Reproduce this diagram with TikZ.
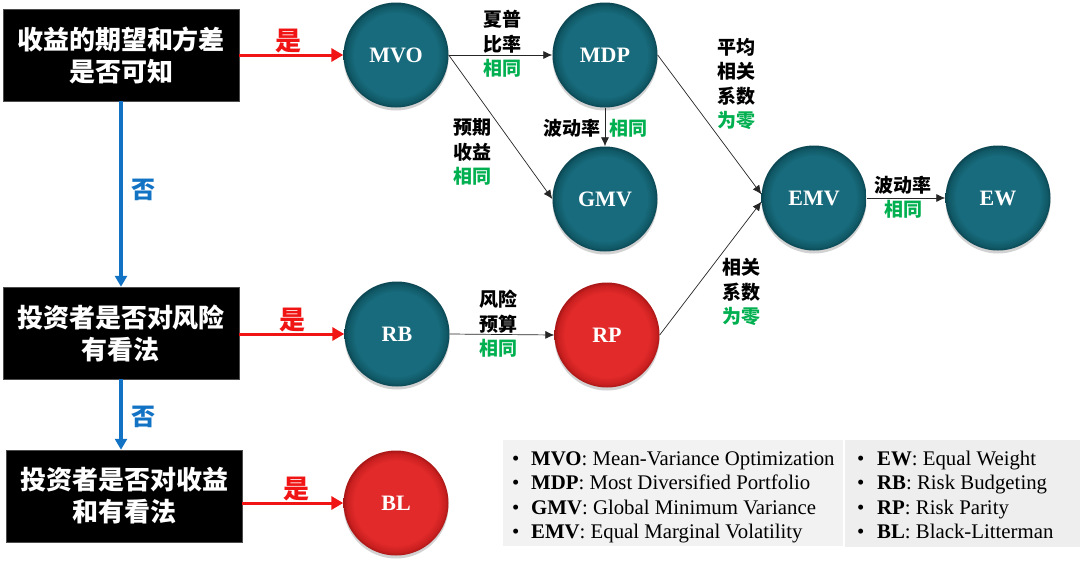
\documentclass[tikz,border=0pt]{standalone}
\usepackage{fontspec}
\setmainfont{Liberation Serif}
\newfontfamily\cjk{Noto Sans CJK SC}
\usetikzlibrary{arrows.meta,shadows}
\definecolor{tealmid}{HTML}{176B7C}
\definecolor{tealdark}{HTML}{105866}
\definecolor{tealedge}{HTML}{0B4652}
\definecolor{redmid}{HTML}{E22A2A}
\definecolor{reddark}{HTML}{C91F1F}
\definecolor{rededge}{HTML}{A81616}
\definecolor{okgreen}{HTML}{00B050}
\definecolor{yesred}{HTML}{F01414}
\definecolor{noblue}{HTML}{1272C4}
\definecolor{legbgA}{HTML}{F2F2F2}
\definecolor{legbgB}{HTML}{EEEEEE}
\pgfdeclareradialshading{tealball}{\pgfpoint{0bp}{0bp}}{color(0bp)=(tealmid); color(20bp)=(tealmid); color(23.5bp)=(tealdark); color(25bp)=(tealedge); color(50bp)=(tealedge)}
\pgfdeclareradialshading{redball}{\pgfpoint{0bp}{0bp}}{color(0bp)=(redmid); color(20bp)=(redmid); color(23.5bp)=(reddark); color(25bp)=(rededge); color(50bp)=(rededge)}
\tikzset{
  qbox/.style={fill=black, draw=black!70, line width=0.5pt, minimum width=236pt, minimum height=92pt,
    inner sep=0pt, text=white, align=center, font=\cjk\bfseries\fontsize{26}{32}\selectfont},
  ballbase/.style={circle, minimum size=105pt, inner sep=0pt, text=white,
    font=\bfseries\fontsize{22}{26}\selectfont,
    drop shadow={shadow xshift=0pt, shadow yshift=-3pt, opacity=0.25, fill=black!70}},
  tball/.style={ballbase, shading=tealball},
  rball/.style={ballbase, shading=redball},
  lbl/.style={align=center, inner sep=0pt, font=\cjk\bfseries\fontsize{19}{24.5}\selectfont},
  conn/.style={draw=black!85, line width=0.7pt, -{Latex[length=9pt,width=8pt]}},
  yesarrow/.style={draw=yesred, line width=3pt, -{Triangle[length=12pt,width=13pt]}},
  noarrow/.style={draw=noblue, line width=3.5pt, -{Triangle[length=11pt,width=12pt]}},
  yeslbl/.style={text=yesred, inner sep=0pt, font=\cjk\bfseries\fontsize{26}{30}\selectfont},
  nolbl/.style={text=noblue, inner sep=0pt, font=\cjk\bfseries\fontsize{24}{28}\selectfont},
  legtxt/.style={anchor=base west, inner sep=0pt, font=\fontsize{20.8}{24}\selectfont},
}
\newcommand{\gr}[1]{\textcolor{okgreen}{#1}}
\begin{document}
\begin{tikzpicture}[x=1pt,y=-1pt]
\useasboundingbox (0,0) rectangle (1080,565);
\fill[white] (0,0) rectangle (1080,565);

% legend backgrounds
\fill[legbgA] (503,440) rectangle (843,546);
\fill[legbgB] (845,440) rectangle (1080,547);

% question boxes
\node[qbox] (q1) at (121,55) {收益的期望和方差\\是否可知};
\node[qbox] (q2) at (121,333) {投资者是否对风险\\有看法};
\node[qbox] (q3) at (124,496) {投资者是否对收益\\和有看法};

% circles
\node[tball] (mvo) at (396,55) {MVO};
\node[tball] (mdp) at (605,55) {MDP};
\node[tball] (gmv) at (605,199) {GMV};
\node[tball] (emv) at (814,198) {EMV};
\node[tball] (ew) at (998,198) {EW};
\node[tball] (rb) at (397,334) {RB};
\node[rball] (rp) at (607,335) {RP};
\node[rball] (bl) at (396,503) {BL};

% yes arrows
\draw[yesarrow] (q1.east) -- (mvo.west);
\draw[yesarrow] (q2.east |- rb.west) -- (rb.west);
\draw[yesarrow] (q3.east |- bl.west) -- (bl.west);
\node[yeslbl] (y1) at (288,41) {是};
\node[yeslbl] (y2) at (292,320) {是};
\node[yeslbl] (y3) at (296,489) {是};

% no arrows
\draw[noarrow] (q1.south) -- (q2.north);
\draw[noarrow] (q2.south) -- (q2.south |- q3.north);
\node[nolbl] (n1) at (143,190) {否};
\node[nolbl] (n2) at (143,417) {否};

% connectors
\draw[conn] (mvo.east) -- (mdp.west);
\draw[conn] (mvo.east) -- (gmv.west);
\draw[conn] (mdp.south) -- (gmv.north);
\draw[conn] (mdp.east) -- (emv.176);
\draw[conn] (rp.east) -- (emv.184);
\draw[conn] (emv.east) -- (ew.west);
\draw[conn] (rb.east) -- (rp.west);

% connector labels
\node[lbl] (a1) at (502,44) {夏普\\比率\\\gr{相同}};
\node[lbl] (a2) at (472,152) {预期\\收益\\\gr{相同}};
\node[lbl] (a3) at (572,128) {波动率};
\node[lbl] (a4) at (628,128) {\gr{相同}};
\node[lbl] (a5) at (736,84) {平均\\相关\\系数\\\gr{为零}};
\node[lbl] (a6) at (741,292) {相关\\系数\\\gr{为零}};
\node[lbl] (a7) at (903,197) {波动率\\\gr{相同}};
\node[lbl] (a8) at (498,324) {风险\\预算\\\gr{相同}};

% legend text
\node[legtxt] (l1) at (512,465) {\makebox[19pt][l]{•}\textbf{MVO}: Mean-Variance Optimization};
\node[legtxt] (l2) at (512,489) {\makebox[19pt][l]{•}\textbf{MDP}: Most Diversified Portfolio};
\node[legtxt] (l3) at (512,514) {\makebox[19pt][l]{•}\textbf{GMV}: Global Minimum Variance};
\node[legtxt] (l4) at (512,538) {\makebox[19pt][l]{•}\textbf{EMV}: Equal Marginal Volatility};
\node[legtxt] (l5) at (857,465) {\makebox[20pt][l]{•}\textbf{EW}: Equal Weight};
\node[legtxt] (l6) at (857,489) {\makebox[20pt][l]{•}\textbf{RB}: Risk Budgeting};
\node[legtxt] (l7) at (857,514) {\makebox[20pt][l]{•}\textbf{RP}: Risk Parity};
\node[legtxt] (l8) at (857,538) {\makebox[20pt][l]{•}\textbf{BL}: Black-Litterman};
\end{tikzpicture}
\end{document}
